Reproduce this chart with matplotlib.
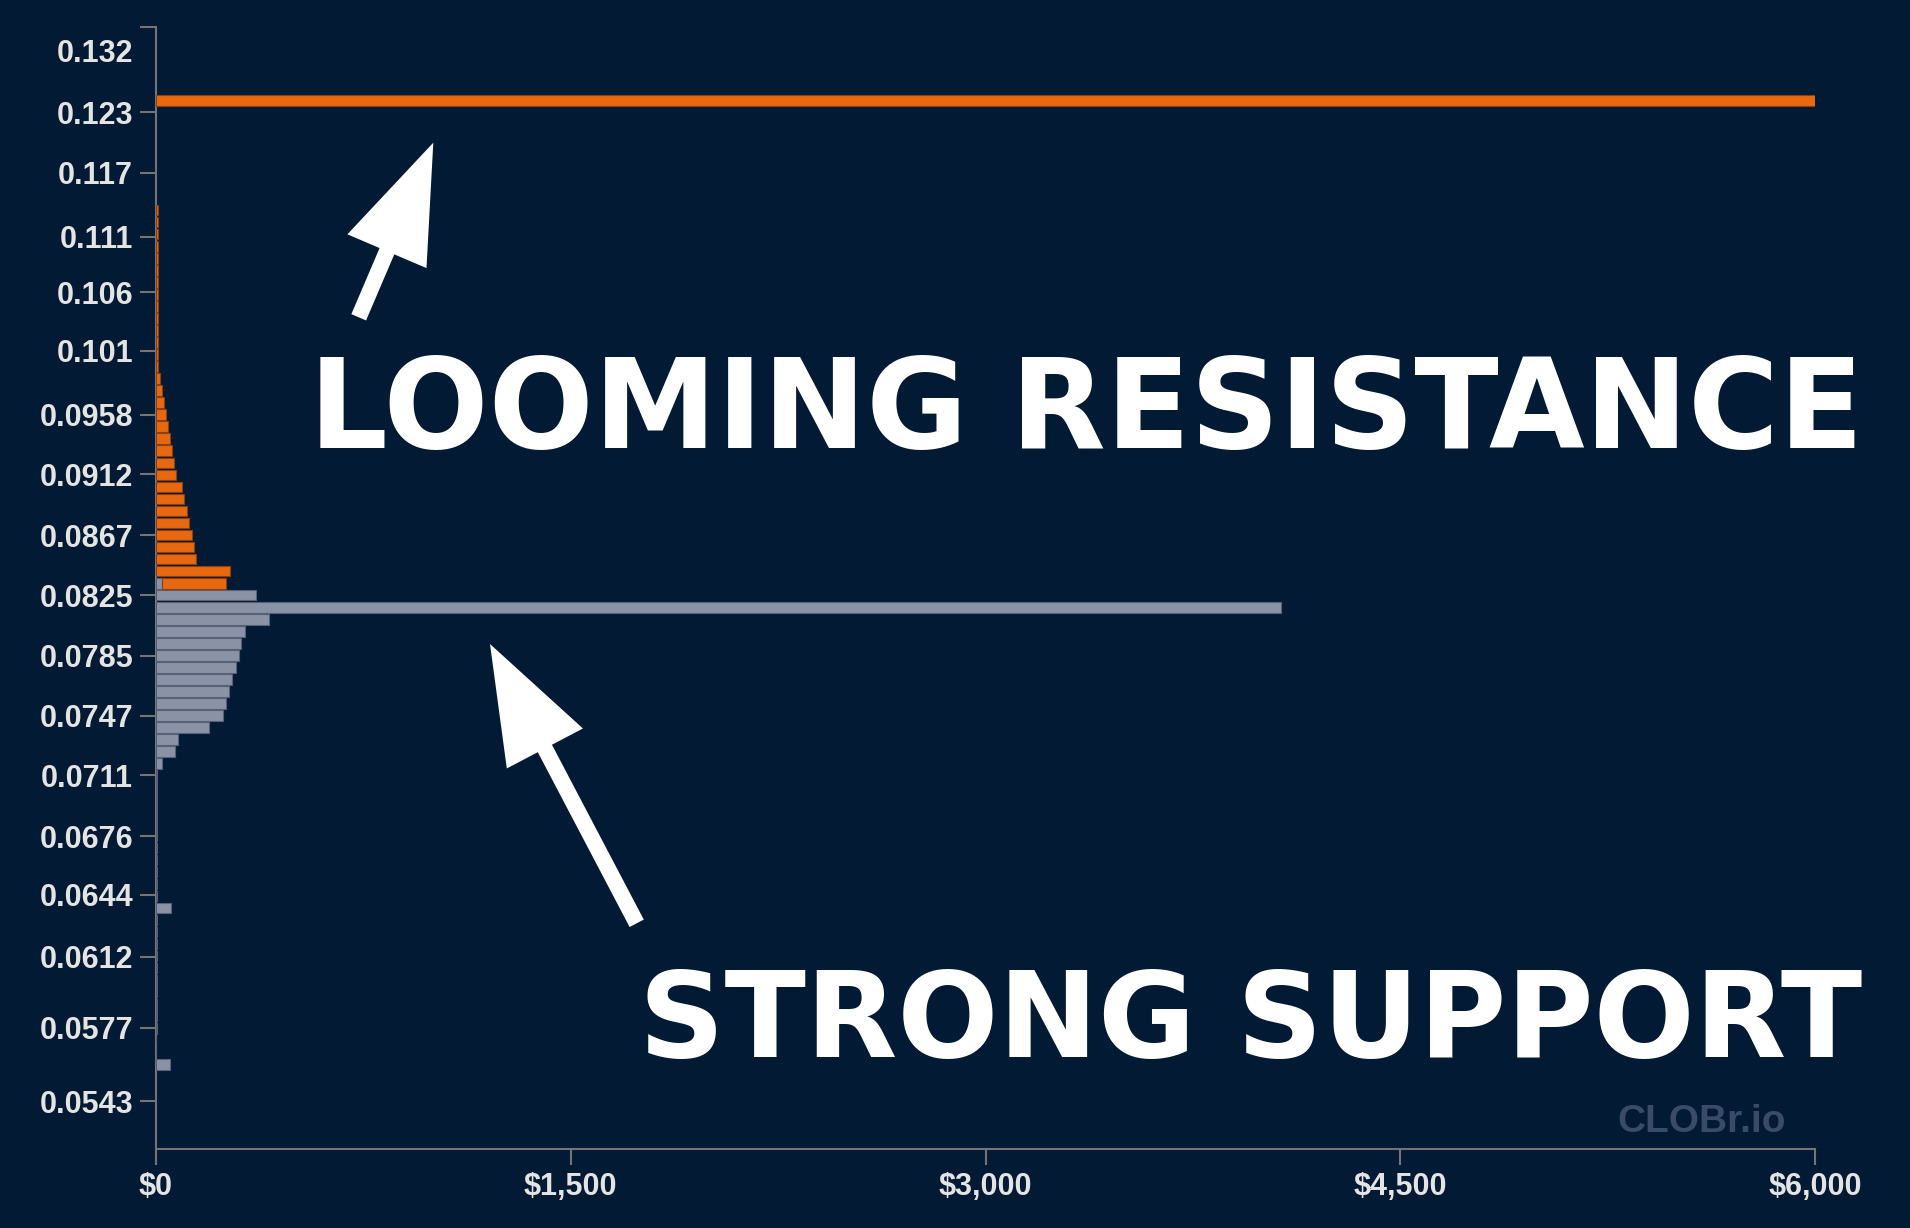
import matplotlib.pyplot as plt
import numpy as np
from matplotlib.patches import FancyArrow
from matplotlib.ticker import FixedLocator, FixedFormatter, NullLocator
from matplotlib.transforms import IdentityTransform, ScaledTranslation

BG = '#021a33'
ORANGE = '#e8680f'
ORANGE_EDGE = '#8c3f12'
GREY = '#8a93a5'
GREY_EDGE = '#566178'

# asks (orange), price level -> USD size
ask_prices = [0.1242,
              0.11346, 0.11233, 0.11122, 0.11012, 0.10903, 0.10795, 0.10688, 0.10582,
              0.10477, 0.10374, 0.10271, 0.10169, 0.10069, 0.09969, 0.09870, 0.09773,
              0.09676, 0.09580, 0.09485, 0.09391, 0.09298, 0.09206, 0.09115, 0.09025,
              0.08936, 0.08847, 0.08759, 0.08673, 0.08587, 0.08502, 0.08418, 0.08334]
ask_sizes = [6200,
             9, 9, 9, 9, 9, 9, 9, 9,
             9, 9, 9, 9, 9, 9, 15, 23,
             30, 36, 45, 51, 58, 65, 71, 95,
             102, 111, 119, 129, 136, 146, 266, 230]

# bids (grey)
bid_prices = [0.08334, 0.08252, 0.08170, 0.08089, 0.08009, 0.07930, 0.07851, 0.07773,
              0.07696, 0.07620, 0.07545, 0.07470, 0.07396, 0.07323, 0.07251, 0.07179,
              0.07108, 0.07038, 0.06968, 0.06899, 0.06831, 0.06763, 0.06696, 0.06630,
              0.06564, 0.06499, 0.06435, 0.06371, 0.06308, 0.06246, 0.06184, 0.06123,
              0.06062, 0.06002, 0.05943, 0.05884, 0.05826, 0.05768, 0.05711, 0.05654,
              0.05598]
bid_sizes = [23, 362, 4070, 410, 321, 309, 299, 288,
             275, 264, 254, 243, 192, 81, 70, 23,
             5, 5, 5, 5, 5, 5, 5, 5,
             5, 5, 5, 54, 5, 5, 5, 5,
             5, 5, 5, 5, 5, 5, 0, 0,
             50]

y_ticks = [0.132, 0.123, 0.117, 0.111, 0.106, 0.101, 0.0958, 0.0912, 0.0867,
           0.0825, 0.0785, 0.0747, 0.0711, 0.0676, 0.0644, 0.0612, 0.0577, 0.0543]
y_labels = ['0.132', '0.123', '0.117', '0.111', '0.106', '0.101', '0.0958', '0.0912',
            '0.0867', '0.0825', '0.0785', '0.0747', '0.0711', '0.0676', '0.0644',
            '0.0612', '0.0577', '0.0543']
x_ticks = [0, 1500, 3000, 4500, 6000]
x_labels = ['$0', '$1,500', '$3,000', '$4,500', '$6,000']

W, H = 1910, 1228
fig = plt.figure(figsize=(W / 100, H / 100), dpi=100, facecolor=BG)
ax = fig.add_axes([156 / W, 1 - 1149 / H, (1815 - 156) / W, (1149 - 27) / H])
ax.set_facecolor(BG)
ax.set_yscale('log')

bid_lookup = dict(zip(bid_prices, bid_sizes))
ask_left = [bid_lookup.get(p, 0) for p in ask_prices]

bp = np.array(bid_prices)
ap = np.array(ask_prices)
ax.barh(bp, bid_sizes, height=bp * 0.0088, color=GREY, edgecolor=GREY_EDGE,
        linewidth=0.8, zorder=2)
ax.barh(ap, ask_sizes, left=ask_left, height=ap * 0.0088, color=ORANGE,
        edgecolor=ORANGE_EDGE, linewidth=0.8, zorder=2)

ax.set_xlim(0, 6000)
ax.set_ylim(0.0522, 0.132)

ax.yaxis.set_major_locator(FixedLocator(y_ticks))
ax.yaxis.set_major_formatter(FixedFormatter(y_labels))
ax.yaxis.set_minor_locator(NullLocator())
ax.set_xticks(x_ticks)
ax.set_xticklabels(x_labels)

for s in ['top', 'right']:
    ax.spines[s].set_visible(False)
for s in ['left', 'bottom']:
    ax.spines[s].set_color('#747474')
    ax.spines[s].set_linewidth(1.5)
    ax.spines[s].set_zorder(1)

ax.tick_params(colors='#747474', length=11.5, width=1.5, pad=5,
               labelcolor='#e4e4e4', labelsize=22)
for lbl in ax.get_xticklabels() + ax.get_yticklabels():
    lbl.set_fontfamily('Liberation Sans')
    lbl.set_fontweight('bold')

# top label sits a little below its tick
top_lbl = ax.yaxis.get_major_ticks()[0].label1
top_lbl.set_transform(top_lbl.get_transform() + ScaledTranslation(0, -0.24, fig.dpi_scale_trans))

# annotations
fig.text(309 / W, 1 - 448 / H, 'LOOMING RESISTANCE', fontsize=89, fontweight='bold',
         family='DejaVu Sans', color='white', ha='left', va='baseline')
fig.text(639 / W, 1 - 1057 / H, 'STRONG SUPPORT', fontsize=85.7, fontweight='bold',
         family='DejaVu Sans', color='white', ha='left', va='baseline')
fig.text(1702 / W, 1 - 1132 / H, 'CLOBr.io', fontsize=28, fontweight='bold',
         family='Liberation Sans', color='#3a4b6a', ha='center', va='baseline')

arrows = [((358.7, 317.3), (433.3, 142.7)), ((636.7, 923.3), (490.0, 644.0))]
for (x0, y0), (x1, y1) in arrows:
    fig.add_artist(FancyArrow(x0, H - y0, x1 - x0, y0 - y1, width=16, head_width=86,
                              head_length=118, length_includes_head=True,
                              color='white', lw=0, transform=IdentityTransform()))

fig.savefig('out.png', dpi=100, facecolor=BG)
